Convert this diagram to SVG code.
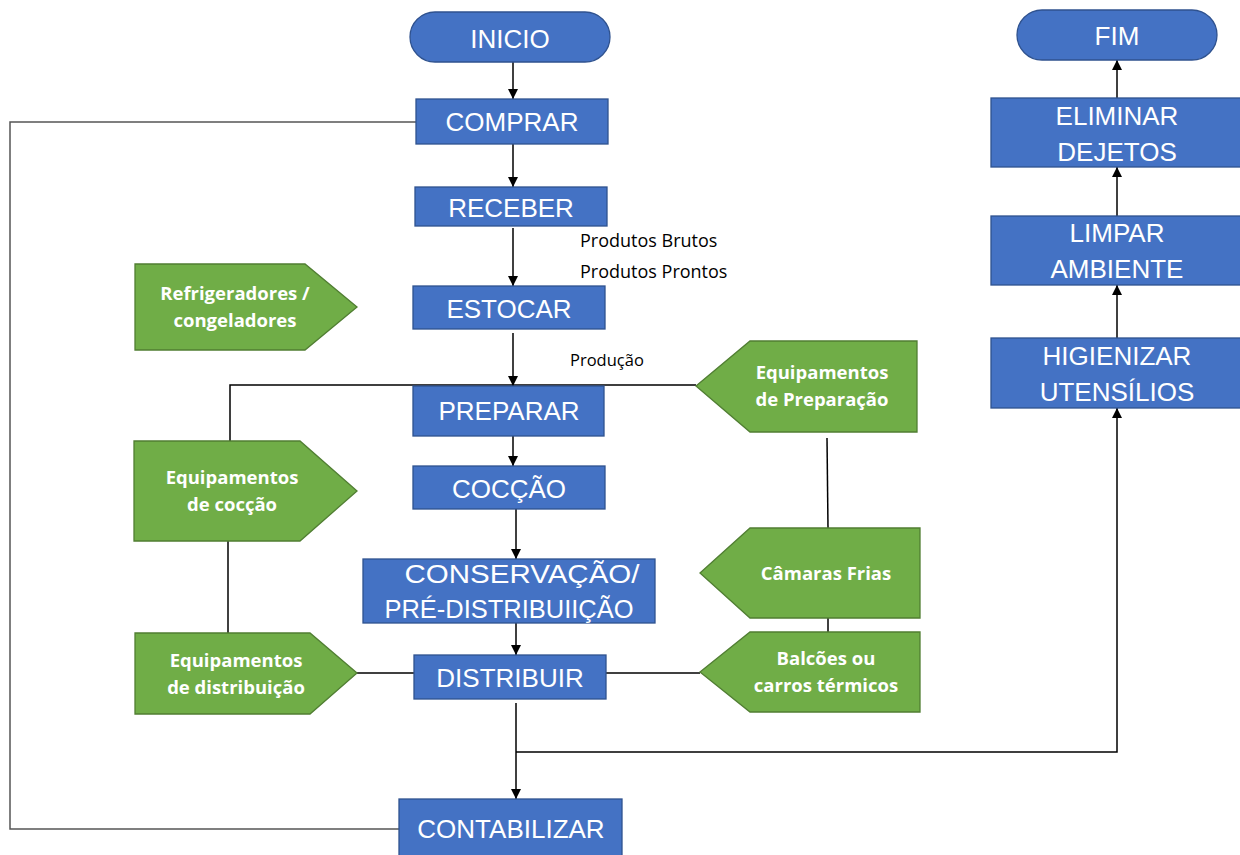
<svg xmlns="http://www.w3.org/2000/svg" width="1240" height="855" viewBox="0 0 1240 855">
<defs>
<marker id="arr" markerWidth="10" markerHeight="10" refX="10" refY="5" orient="auto" markerUnits="userSpaceOnUse">
<path d="M0,0 L10,5 L0,10 Z" fill="#000"/>
</marker>
<style>
.b{fill:#4472C4;stroke:#2F528F;stroke-width:1.3}
.g{fill:#70AD47;stroke:#507E32;stroke-width:1.3}
.bt{font-family:"Liberation Sans",Arial,sans-serif;font-size:26px;fill:#fff;text-anchor:middle}
.gt{font-family:"Open Sans","Liberation Sans",Arial,sans-serif;font-size:18.5px;font-weight:bold;fill:#fff;text-anchor:middle}
.lt{font-family:"Open Sans","Liberation Sans",Arial,sans-serif;font-size:18px;fill:#000}
.c{fill:none;stroke:#000;stroke-width:1.5}
.ca{fill:none;stroke:#000;stroke-width:1.5;marker-end:url(#arr)}
</style>
</defs>
<rect width="1240" height="855" fill="#fff"/>
<g id="connectors">
<line class="ca" x1="513" y1="62" x2="513" y2="99"/>
<line class="ca" x1="513" y1="144" x2="513" y2="187"/>
<line class="ca" x1="513" y1="228" x2="513" y2="286"/>
<line class="ca" x1="513" y1="333" x2="513" y2="386"/>
<line class="ca" x1="513" y1="436" x2="513" y2="466"/>
<line class="ca" x1="516" y1="509" x2="516" y2="559"/>
<line class="ca" x1="516" y1="623" x2="516" y2="655"/>
<line class="ca" x1="516" y1="703" x2="516" y2="799"/>
<polyline class="c" points="230,441 230,385 696,385"/>
<line class="c" x1="228" y1="541" x2="228" y2="633"/>
<line class="c" x1="357" y1="673" x2="414" y2="673"/>
<line class="c" x1="606" y1="673" x2="700" y2="673"/>
<line class="c" x1="827" y1="438" x2="828" y2="528"/>
<line class="c" x1="828" y1="618" x2="828" y2="632"/>
<polyline class="ca" points="516,752 1117,752 1117,408"/>
<line class="ca" x1="1117" y1="338" x2="1117" y2="285"/>
<line class="ca" x1="1117" y1="216" x2="1117" y2="167"/>
<line class="ca" x1="1117" y1="98" x2="1117" y2="60"/>
<polyline fill="none" stroke="#555" stroke-width="1.5" points="399,829 10,829 10,122 416,122"/>
</g>
<g id="inicio"><rect class="b" x="410" y="12" width="200" height="50" rx="25"/><text class="bt" x="510" y="48">INICIO</text></g>
<g id="comprar"><rect class="b" x="416" y="99" width="192" height="45"/><text class="bt" x="512" y="131">COMPRAR</text></g>
<g id="receber"><rect class="b" x="415" y="187" width="192" height="39"/><text class="bt" x="511" y="217">RECEBER</text></g>
<g id="estocar"><rect class="b" x="413" y="286" width="192" height="43"/><text class="bt" x="509" y="318">ESTOCAR</text></g>
<g id="preparar"><rect class="b" x="413" y="386" width="191" height="50"/><text class="bt" x="509" y="420">PREPARAR</text></g>
<g id="coccao"><rect class="b" x="413" y="466" width="192" height="43"/><text class="bt" x="509" y="498">COCÇÃO</text></g>
<g id="conservacao"><rect class="b" x="363" y="559" width="292" height="64"/><text class="bt" x="522" y="583" textLength="235" lengthAdjust="spacingAndGlyphs">CONSERVAÇÃO/</text><text class="bt" x="509" y="618" textLength="249" lengthAdjust="spacingAndGlyphs">PRÉ-DISTRIBUIIÇÃO</text></g>
<g id="distribuir"><rect class="b" x="414" y="655" width="192" height="44"/><text class="bt" x="510" y="687">DISTRIBUIR</text></g>
<g id="contabilizar"><rect class="b" x="399" y="799" width="223" height="58"/><text class="bt" x="511" y="838">CONTABILIZAR</text></g>
<g id="fim"><rect class="b" x="1017" y="10" width="200" height="50" rx="25"/><text class="bt" x="1117" y="45">FIM</text></g>
<g id="eliminar"><rect class="b" x="991" y="98" width="252" height="69"/><text class="bt" x="1117" y="125">ELIMINAR</text><text class="bt" x="1117" y="161">DEJETOS</text></g>
<g id="limpar"><rect class="b" x="991" y="216" width="252" height="69"/><text class="bt" x="1117" y="242">LIMPAR</text><text class="bt" x="1117" y="278">AMBIENTE</text></g>
<g id="higienizar"><rect class="b" x="991" y="338" width="252" height="70"/><text class="bt" x="1117" y="365">HIGIENIZAR</text><text class="bt" x="1117" y="401">UTENSÍLIOS</text></g>
<g id="refrigeradores"><path class="g" d="M135,264 L305,264 L357,307 L305,350 L135,350 Z"/><text class="gt" x="235" y="300">Refrigeradores /</text><text class="gt" x="235" y="327">congeladores</text></g>
<g id="equip-coccao"><path class="g" d="M134,441 L300,441 L357,491 L300,541 L134,541 Z"/><text class="gt" x="232" y="484">Equipamentos</text><text class="gt" x="232" y="511">de cocção</text></g>
<g id="equip-distribuicao"><path class="g" d="M135,633 L310,633 L357,673 L310,714 L135,714 Z"/><text class="gt" x="236" y="667">Equipamentos</text><text class="gt" x="236" y="694">de distribuição</text></g>
<g id="equip-preparacao"><path class="g" d="M917,341 L750,341 L696,386 L750,432 L917,432 Z"/><text class="gt" x="822" y="379">Equipamentos</text><text class="gt" x="822" y="406">de Preparação</text></g>
<g id="camaras-frias"><path class="g" d="M920,528 L750,528 L700,573 L750,618 L920,618 Z"/><text class="gt" x="826" y="580">Câmaras Frias</text></g>
<g id="balcoes"><path class="g" d="M920,632 L750,632 L700,672 L750,712 L920,712 Z"/><text class="gt" x="826" y="665">Balcões ou</text><text class="gt" x="826" y="692">carros térmicos</text></g>
<g id="labels">
<text class="lt" x="580" y="247">Produtos Brutos</text>
<text class="lt" x="580" y="278">Produtos Prontos</text>
<text class="lt" x="570" y="366" style="font-size:16.5px">Produção</text>
</g>
</svg>
